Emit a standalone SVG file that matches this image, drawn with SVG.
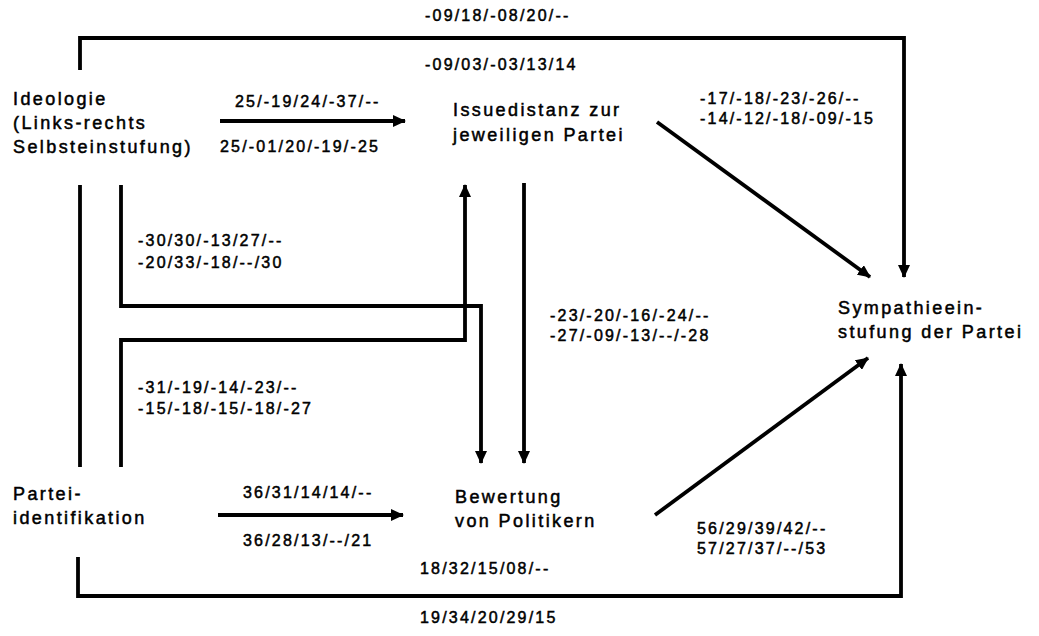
<svg xmlns="http://www.w3.org/2000/svg" width="1039" height="636" viewBox="0 0 1039 636">
<defs>
<marker id="ah" markerUnits="userSpaceOnUse" markerWidth="14" markerHeight="12" refX="12" refY="6" orient="auto">
<path d="M0,0 L13,6 L0,12 Z" fill="#000"/>
</marker>
<style>
.n{font-family:"Liberation Sans",Arial,sans-serif;font-size:18px;letter-spacing:2.4px;fill:#000;stroke:#000;stroke-width:0.5}
.v{font-family:"Liberation Sans",Arial,sans-serif;font-size:16px;letter-spacing:2.2px;fill:#000;stroke:#000;stroke-width:0.5}
.c{fill:none;stroke:#000;stroke-width:3.8;stroke-linejoin:miter}
.a{marker-end:url(#ah)}
</style>
</defs>
<rect width="1039" height="636" fill="#fff"/>
<g id="connectors">
<path class="c a" d="M80,70 V38 H904 V277"/>
<path class="c a" d="M220,121 H405"/>
<path class="c a" d="M657,122 L870,277"/>
<path class="c" d="M80,185 V467"/>
<path class="c a" d="M121,185 V306 H481 V463"/>
<path class="c a" d="M121,467 V340 H465 V185"/>
<path class="c a" d="M524,183 V463"/>
<path class="c a" d="M218,515 H403"/>
<path class="c a" d="M655,515 L868,358"/>
<path class="c a" d="M78,557 V596 H901 V364"/>
</g>
<g id="labels">
<text class="v" x="425" y="21">-09/18/-08/20/--</text>
<text class="v" x="425" y="70">-09/03/-03/13/14</text>
<text class="v" x="235" y="107">25/-19/24/-37/--</text>
<text class="v" x="220" y="152">25/-01/20/-19/-25</text>
<text class="v" x="700" y="104">-17/-18/-23/-26/--</text>
<text class="v" x="700" y="124">-14/-12/-18/-09/-15</text>
<text class="v" x="138" y="246">-30/30/-13/27/--</text>
<text class="v" x="138" y="268">-20/33/-18/--/30</text>
<text class="v" x="138" y="393">-31/-19/-14/-23/--</text>
<text class="v" x="138" y="414">-15/-18/-15/-18/-27</text>
<text class="v" x="550" y="321">-23/-20/-16/-24/--</text>
<text class="v" x="550" y="341">-27/-09/-13/--/-28</text>
<text class="v" x="243" y="498">36/31/14/14/--</text>
<text class="v" x="243" y="546">36/28/13/--/21</text>
<text class="v" x="697" y="534">56/29/39/42/--</text>
<text class="v" x="697" y="554">57/27/37/--/53</text>
<text class="v" x="420" y="574">18/32/15/08/--</text>
<text class="v" x="420" y="623">19/34/20/29/15</text>
</g>
<g id="ideologie">
<text class="n" x="13" y="105">Ideologie</text>
<text class="n" x="13" y="129">(Links-rechts</text>
<text class="n" x="13" y="153">Selbsteinstufung)</text>
</g>
<g id="issuedistanz">
<text class="n" x="453" y="116">Issuedistanz zur</text>
<text class="n" x="453" y="141">jeweiligen Partei</text>
</g>
<g id="sympathie">
<text class="n" x="838" y="314">Sympathieein-</text>
<text class="n" x="838" y="338">stufung der Partei</text>
</g>
<g id="parteiidentifikation">
<text class="n" x="13" y="500">Partei-</text>
<text class="n" x="13" y="524">identifikation</text>
</g>
<g id="bewertung">
<text class="n" x="455" y="503">Bewertung</text>
<text class="n" x="455" y="527">von Politikern</text>
</g>
</svg>
